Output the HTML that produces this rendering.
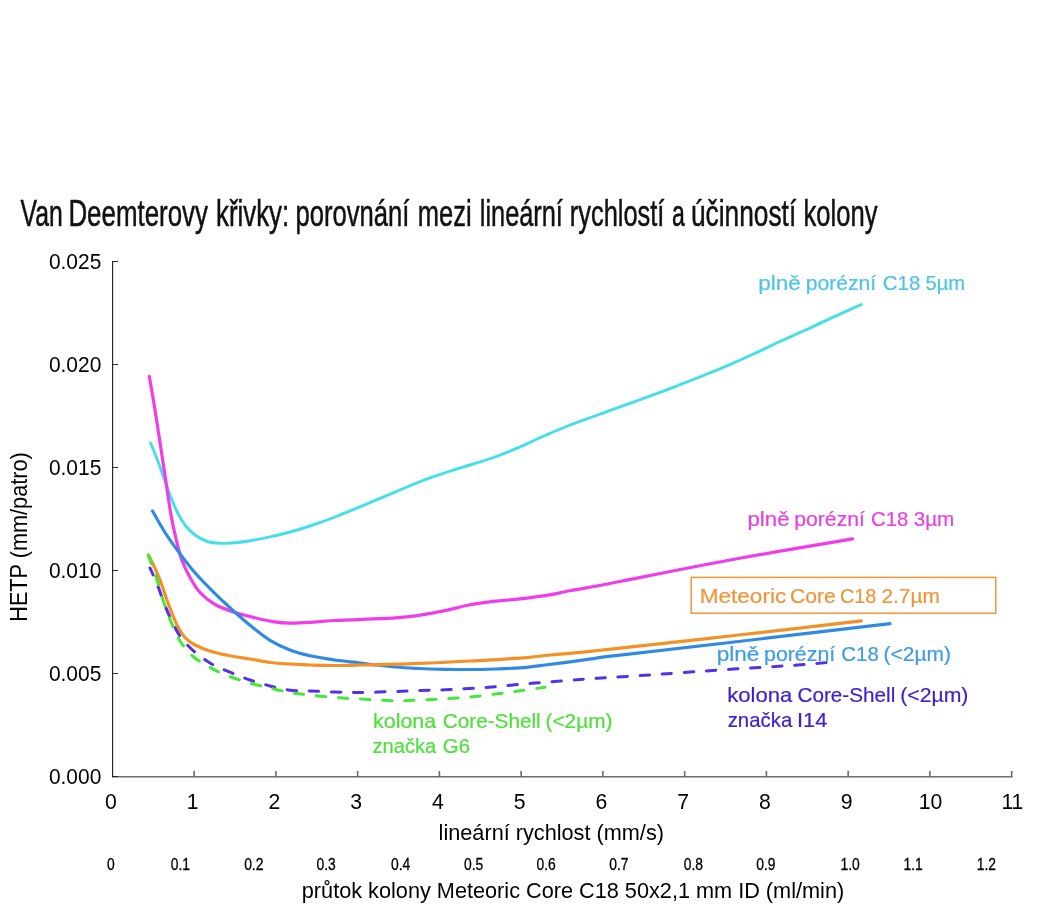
<!DOCTYPE html>
<html><head><meta charset="utf-8"><title>Van Deemterovy křivky</title>
<style>
html,body{margin:0;padding:0;background:#fff;}
body{width:1063px;height:910px;overflow:hidden;font-family:"Liberation Sans",sans-serif;}
svg{display:block;font-family:"Liberation Sans",sans-serif;will-change:transform;}
</style></head><body>
<svg width="1063" height="910" viewBox="0 0 1063 910">
<rect width="1063" height="910" fill="#fff"/>
<g id="axes">
<path d="M112,776.8H1012.5" fill="none" stroke="#6c6c6c" stroke-width="1.4"/>
<path d="M194.15,777.3v-6.2M275.90,777.3v-6.2M357.65,777.3v-6.2M439.40,777.3v-6.2M521.15,777.3v-6.2M602.90,777.3v-6.2M684.65,777.3v-6.2M766.40,777.3v-6.2M848.15,777.3v-6.2M929.90,777.3v-6.2M1011.65,777.3v-6.2" fill="none" stroke="#6c6c6c" stroke-width="1.6"/>
<path d="M112.6,261.1V777.3" fill="none" stroke="#222" stroke-width="1.15"/>
<path d="M112.6,776.5h5.4M112.6,673.5h5.4M112.6,570.5h5.4M112.6,467.5h5.4M112.6,364.5h5.4M112.6,261.5h5.4" fill="none" stroke="#222" stroke-width="0.95"/>
</g>
<g id="labels">
<rect x="691.2" y="577.4" width="304.6" height="35.8" fill="none" stroke="#F0953A" stroke-width="1.5"/>
<text transform="translate(758.15,290) scale(1.1399,1)" font-size="19.8" fill="#4DC3E8" stroke="#4DC3E8" stroke-width="0.2">plně</text>
<text transform="translate(805.73,290) scale(1.0678,1)" font-size="19.8" fill="#4DC3E8" stroke="#4DC3E8" stroke-width="0.2">porézní</text>
<text transform="translate(882.78,290) scale(1.0313,1)" font-size="19.8" fill="#4DC3E8" stroke="#4DC3E8" stroke-width="0.2">C18</text>
<text transform="translate(925.49,290) scale(1.0170,1)" font-size="19.8" fill="#4DC3E8" stroke="#4DC3E8" stroke-width="0.2">5µm</text>
<text transform="translate(747.46,526) scale(1.1258,1)" font-size="19.8" fill="#EB3FE0" stroke="#EB3FE0" stroke-width="0.2">plně</text>
<text transform="translate(794.23,526) scale(1.0709,1)" font-size="19.8" fill="#EB3FE0" stroke="#EB3FE0" stroke-width="0.2">porézní</text>
<text transform="translate(870.98,526) scale(1.0255,1)" font-size="19.8" fill="#EB3FE0" stroke="#EB3FE0" stroke-width="0.2">C18</text>
<text transform="translate(913.68,526) scale(1.0439,1)" font-size="19.8" fill="#EB3FE0" stroke="#EB3FE0" stroke-width="0.2">3µm</text>
<text transform="translate(699.69,603.4) scale(1.1401,1)" font-size="19.8" fill="#F0953A" stroke="#F0953A" stroke-width="0.2">Meteoric</text>
<text transform="translate(789.95,603.4) scale(1.0653,1)" font-size="19.8" fill="#F0953A" stroke="#F0953A" stroke-width="0.2">Core</text>
<text transform="translate(840.01,603.4) scale(1.0024,1)" font-size="19.8" fill="#F0953A" stroke="#F0953A" stroke-width="0.2">C18</text>
<text transform="translate(881.46,603.4) scale(1.0547,1)" font-size="19.8" fill="#F0953A" stroke="#F0953A" stroke-width="0.2">2.7µm</text>
<text transform="translate(716.65,661.3) scale(1.1399,1)" font-size="19.8" fill="#3E9CE3" stroke="#3E9CE3" stroke-width="0.2">plně</text>
<text transform="translate(764.02,661.3) scale(1.0786,1)" font-size="19.8" fill="#3E9CE3" stroke="#3E9CE3" stroke-width="0.2">porézní</text>
<text transform="translate(841.28,661.3) scale(1.0313,1)" font-size="19.8" fill="#3E9CE3" stroke="#3E9CE3" stroke-width="0.2">C18</text>
<text transform="translate(883.54,661.3) scale(1.0582,1)" font-size="19.8" fill="#3E9CE3" stroke="#3E9CE3" stroke-width="0.2">(&lt;2µm)</text>
<text transform="translate(727.18,701.5) scale(1.1147,1)" font-size="19.8" fill="#3E22CE" stroke="#3E22CE" stroke-width="0.2">kolona</text>
<text transform="translate(797.46,701.5) scale(1.0458,1)" font-size="19.8" fill="#3E22CE" stroke="#3E22CE" stroke-width="0.2">Core-Shell</text>
<text transform="translate(900.23,701.5) scale(1.0712,1)" font-size="19.8" fill="#3E22CE" stroke="#3E22CE" stroke-width="0.2">(&lt;2µm)</text>
<text transform="translate(727.69,726.5) scale(1.0287,1)" font-size="19.8" fill="#3E22CE" stroke="#3E22CE" stroke-width="0.2">značka</text>
<text transform="translate(797.04,726.5) scale(1.1021,1)" font-size="19.8" fill="#3E22CE" stroke="#3E22CE" stroke-width="0.2">I14</text>
<text transform="translate(373.01,728) scale(1.0833,1)" font-size="19.8" fill="#4FE03C" stroke="#4FE03C" stroke-width="0.2">kolona</text>
<text transform="translate(442.76,728) scale(1.0480,1)" font-size="19.8" fill="#4FE03C" stroke="#4FE03C" stroke-width="0.2">Core-Shell</text>
<text transform="translate(545.55,728) scale(1.0500,1)" font-size="19.8" fill="#4FE03C" stroke="#4FE03C" stroke-width="0.2">(&lt;2µm)</text>
<text transform="translate(372.50,753) scale(1.0158,1)" font-size="19.8" fill="#4FE03C" stroke="#4FE03C" stroke-width="0.2">značka</text>
<text transform="translate(442.78,753) scale(1.0321,1)" font-size="19.8" fill="#4FE03C" stroke="#4FE03C" stroke-width="0.2">G6</text>
</g>
<g id="curves">
<path d="M150.5,443.0C151.7,445.8 155.3,454.2 157.5,460.0C159.7,465.8 161.7,471.7 163.8,477.5C165.9,483.3 167.7,489.2 170.0,495.0C172.3,500.8 175.0,507.5 177.5,512.5C180.0,517.5 182.1,521.2 185.0,525.0C187.9,528.8 191.2,532.2 195.0,535.0C198.8,537.8 203.3,540.1 207.5,541.5C211.7,542.9 215.4,543.1 220.0,543.3C224.6,543.5 230.0,543.1 235.0,542.7C240.0,542.3 244.2,541.8 250.0,540.8C255.8,539.8 263.3,538.3 270.0,536.8C276.7,535.3 283.3,533.8 290.0,532.0C296.7,530.2 302.5,528.5 310.0,526.0C317.5,523.5 326.7,520.2 335.0,517.0C343.3,513.8 350.0,510.9 360.0,506.8C370.0,502.7 385.0,496.3 395.0,492.1C405.0,487.9 411.7,484.8 420.0,481.6C428.3,478.4 436.7,475.6 445.0,472.8C453.3,470.0 461.7,467.6 470.0,465.0C478.3,462.4 486.7,460.0 495.0,457.0C503.3,454.0 511.7,450.5 520.0,446.9C528.3,443.3 536.7,439.1 545.0,435.5C553.3,431.9 561.7,428.2 570.0,425.0C578.3,421.8 586.7,419.0 595.0,416.0C603.3,413.0 610.0,410.4 620.0,406.8C630.0,403.2 645.0,397.9 655.0,394.2C665.0,390.5 671.7,387.9 680.0,384.7C688.3,381.5 696.7,378.1 705.0,374.8C713.3,371.5 721.7,368.2 730.0,364.6C738.3,361.0 746.7,357.2 755.0,353.3C763.3,349.4 771.7,345.3 780.0,341.5C788.3,337.7 796.7,334.1 805.0,330.3C813.3,326.5 820.6,322.9 830.0,318.6C839.4,314.3 856.1,306.9 861.3,304.5" fill="none" stroke="#44E0E8" stroke-width="2.9" stroke-linecap="round" stroke-linejoin="round"/>
<path d="M149.3,376.3C150.2,381.9 153.2,399.0 155.0,410.0C156.8,421.0 158.2,430.8 160.0,442.5C161.8,454.2 163.9,467.9 165.7,480.0C167.5,492.1 169.2,505.0 171.0,515.0C172.8,525.0 174.5,532.5 176.3,540.0C178.1,547.5 179.5,553.8 181.8,560.0C184.1,566.2 187.0,572.1 190.0,577.5C193.0,582.9 195.8,588.0 200.0,592.5C204.2,597.0 209.2,601.2 215.0,604.5C220.8,607.8 228.3,610.3 235.0,612.5C241.7,614.7 248.8,616.3 255.0,617.8C261.2,619.3 266.7,620.7 272.5,621.6C278.3,622.5 283.8,623.1 290.0,623.2C296.2,623.3 302.5,622.9 310.0,622.4C317.5,621.9 320.8,621.3 335.0,620.5C349.2,619.7 380.8,618.7 395.0,617.8C409.2,616.9 411.7,616.4 420.0,615.2C428.3,614.0 436.7,612.3 445.0,610.6C453.3,608.9 462.5,606.3 470.0,604.8C477.5,603.3 481.7,602.8 490.0,601.8C498.3,600.8 510.8,599.8 520.0,598.8C529.2,597.8 536.7,596.9 545.0,595.6C553.3,594.3 561.7,592.3 570.0,590.8C578.3,589.2 586.7,587.8 595.0,586.3C603.3,584.8 597.5,585.9 620.0,581.5C642.5,577.1 691.2,567.1 730.0,560.0C768.8,552.9 832.1,542.3 852.5,538.8" fill="none" stroke="#F03CEB" stroke-width="3.2" stroke-linecap="round" stroke-linejoin="round"/>
<path d="M152.5,511.0C154.6,514.6 160.4,525.4 165.0,532.5C169.6,539.6 175.0,547.1 180.0,553.8C185.0,560.5 189.2,566.2 195.0,572.8C200.8,579.4 208.3,587.0 215.0,593.6C221.7,600.2 228.8,606.6 235.0,612.2C241.2,617.8 246.7,622.6 252.5,627.3C258.3,632.0 263.8,636.5 270.0,640.3C276.2,644.1 283.3,647.4 290.0,650.0C296.7,652.6 302.5,654.1 310.0,655.8C317.5,657.5 326.7,658.8 335.0,660.0C343.3,661.2 350.0,661.8 360.0,663.0C370.0,664.2 385.0,666.1 395.0,667.0C405.0,667.9 411.7,668.1 420.0,668.5C428.3,668.9 436.7,669.1 445.0,669.3C453.3,669.5 461.7,669.5 470.0,669.5C478.3,669.5 486.7,669.3 495.0,669.0C503.3,668.7 511.7,668.5 520.0,667.8C528.3,667.1 536.7,666.0 545.0,665.0C553.3,664.0 561.7,662.9 570.0,661.8C578.3,660.7 586.7,659.4 595.0,658.3C603.3,657.2 597.5,657.8 620.0,655.2C642.5,652.6 685.0,647.8 730.0,642.5C775.0,637.2 863.3,626.8 890.0,623.6" fill="none" stroke="#308BE0" stroke-width="3.2" stroke-linecap="round" stroke-linejoin="round"/>
<path d="M148.3,555.0C149.0,556.3 150.6,558.8 152.5,563.0C154.4,567.2 157.3,573.0 160.0,580.0C162.7,587.0 165.9,597.3 168.8,605.0C171.7,612.7 174.8,620.6 177.5,626.0C180.2,631.4 182.1,634.3 185.0,637.5C187.9,640.7 190.8,642.8 195.0,645.0C199.2,647.2 204.2,649.2 210.0,651.0C215.8,652.8 223.3,654.5 230.0,655.8C236.7,657.1 243.3,657.9 250.0,659.0C256.7,660.1 263.3,661.7 270.0,662.5C276.7,663.3 283.3,663.6 290.0,664.0C296.7,664.4 302.5,664.8 310.0,665.0C317.5,665.2 326.7,665.5 335.0,665.5C343.3,665.5 345.8,665.4 360.0,665.0C374.2,664.6 401.7,664.1 420.0,663.4C438.3,662.7 453.3,661.9 470.0,661.0C486.7,660.1 507.5,659.1 520.0,658.2C532.5,657.3 536.7,656.3 545.0,655.5C553.3,654.7 561.7,654.1 570.0,653.3C578.3,652.5 586.7,651.6 595.0,650.8C603.3,649.9 597.5,650.7 620.0,648.2C642.5,645.7 689.8,640.5 730.0,636.0C770.2,631.5 839.4,623.4 861.3,620.9" fill="none" stroke="#F29226" stroke-width="3.2" stroke-linecap="round" stroke-linejoin="round"/>
<path d="M150.0,568.0C151.2,570.8 155.2,579.2 157.5,585.0C159.8,590.8 161.5,596.7 163.8,602.5C166.1,608.3 168.6,614.4 171.3,620.0C174.0,625.6 176.5,631.0 180.0,636.0C183.5,641.0 187.5,645.5 192.5,650.0C197.5,654.5 203.8,659.3 210.0,663.0C216.2,666.7 223.3,669.4 230.0,672.2C236.7,675.0 243.3,677.7 250.0,680.0C256.7,682.3 263.3,684.3 270.0,686.0C276.7,687.7 283.3,689.4 290.0,690.2C296.7,691.0 302.5,690.7 310.0,691.0C317.5,691.3 326.7,691.8 335.0,692.0C343.3,692.2 350.0,692.6 360.0,692.5C370.0,692.4 385.0,691.8 395.0,691.5C405.0,691.2 411.7,690.8 420.0,690.5C428.3,690.2 436.7,690.1 445.0,689.8C453.3,689.5 461.7,689.0 470.0,688.5C478.3,688.0 486.7,687.5 495.0,686.8C503.3,686.1 511.7,685.0 520.0,684.3C528.3,683.5 536.7,683.0 545.0,682.3C553.3,681.6 561.7,680.9 570.0,680.2C578.3,679.6 583.3,679.2 595.0,678.4C606.7,677.6 617.5,677.1 640.0,675.6C662.5,674.1 705.0,671.0 730.0,669.3C755.0,667.6 774.0,666.7 790.0,665.6C806.0,664.5 820.2,663.1 826.3,662.6" fill="none" stroke="#5232E2" stroke-width="3.0" stroke-linecap="round" stroke-linejoin="round" stroke-dasharray="9.4 12.7" stroke-dashoffset="1.8"/>
<path d="M148.3,555.0C149.6,558.8 153.7,569.6 156.3,577.5C158.9,585.4 161.3,595.0 163.8,602.5C166.3,610.0 168.6,616.1 171.3,622.5C174.0,628.9 176.5,635.4 180.0,641.0C183.5,646.6 187.5,651.6 192.5,656.0C197.5,660.4 203.8,664.1 210.0,667.5C216.2,670.9 223.3,674.0 230.0,676.6C236.7,679.2 243.3,681.2 250.0,683.1C256.7,685.0 263.3,686.4 270.0,688.0C276.7,689.6 283.3,691.3 290.0,692.5C296.7,693.7 302.5,694.2 310.0,695.0C317.5,695.8 326.7,696.8 335.0,697.5C343.3,698.2 350.0,698.5 360.0,699.0C370.0,699.5 385.0,700.6 395.0,700.8C405.0,701.0 411.7,700.3 420.0,700.0C428.3,699.7 436.7,699.3 445.0,698.8C453.3,698.3 461.7,697.8 470.0,697.0C478.3,696.2 486.7,695.1 495.0,694.1C503.3,693.1 511.7,691.9 520.0,690.8C528.3,689.6 540.8,687.8 545.0,687.2" fill="none" stroke="#46E63A" stroke-width="3.0" stroke-linecap="round" stroke-linejoin="round" stroke-dasharray="9.4 12.7" stroke-dashoffset="0"/>
</g>
<g id="text">
<text transform="translate(20.60,225.8) scale(0.6687,1)" font-size="37" fill="#111" stroke="#111" stroke-width="0.45" vector-effect="non-scaling-stroke">Van</text>
<text transform="translate(68.43,225.8) scale(0.6998,1)" font-size="37" fill="#111" stroke="#111" stroke-width="0.45" vector-effect="non-scaling-stroke">Deemterovy</text>
<text transform="translate(215.95,225.8) scale(0.6995,1)" font-size="37" fill="#111" stroke="#111" stroke-width="0.45" vector-effect="non-scaling-stroke">křivky:</text>
<text transform="translate(295.46,225.8) scale(0.6926,1)" font-size="37" fill="#111" stroke="#111" stroke-width="0.45" vector-effect="non-scaling-stroke">porovnání</text>
<text transform="translate(417.77,225.8) scale(0.6889,1)" font-size="37" fill="#111" stroke="#111" stroke-width="0.45" vector-effect="non-scaling-stroke">mezi</text>
<text transform="translate(479.78,225.8) scale(0.6853,1)" font-size="37" fill="#111" stroke="#111" stroke-width="0.45" vector-effect="non-scaling-stroke">lineární</text>
<text transform="translate(569.77,225.8) scale(0.6872,1)" font-size="37" fill="#111" stroke="#111" stroke-width="0.45" vector-effect="non-scaling-stroke">rychlostí</text>
<text transform="translate(672.08,225.8) scale(0.6237,1)" font-size="37" fill="#111" stroke="#111" stroke-width="0.45" vector-effect="non-scaling-stroke">a</text>
<text transform="translate(690.92,225.8) scale(0.7112,1)" font-size="37" fill="#111" stroke="#111" stroke-width="0.45" vector-effect="non-scaling-stroke">účinností</text>
<text transform="translate(803.46,225.8) scale(0.6922,1)" font-size="37" fill="#111" stroke="#111" stroke-width="0.45" vector-effect="non-scaling-stroke">kolony</text>
<text transform="translate(101.3,783.7) scale(0.965,1)" font-size="21.7" fill="#000" text-anchor="end">0.000</text>
<text transform="translate(101.3,680.7) scale(0.965,1)" font-size="21.7" fill="#000" text-anchor="end">0.005</text>
<text transform="translate(101.3,577.7) scale(0.965,1)" font-size="21.7" fill="#000" text-anchor="end">0.010</text>
<text transform="translate(101.3,474.7) scale(0.965,1)" font-size="21.7" fill="#000" text-anchor="end">0.015</text>
<text transform="translate(101.3,371.7) scale(0.965,1)" font-size="21.7" fill="#000" text-anchor="end">0.020</text>
<text transform="translate(101.3,268.7) scale(0.965,1)" font-size="21.7" fill="#000" text-anchor="end">0.025</text>
<text x="110.9" y="808.6" font-size="21.2" fill="#000" text-anchor="middle">0</text>
<text x="192.7" y="808.6" font-size="21.2" fill="#000" text-anchor="middle">1</text>
<text x="274.4" y="808.6" font-size="21.2" fill="#000" text-anchor="middle">2</text>
<text x="356.1" y="808.6" font-size="21.2" fill="#000" text-anchor="middle">3</text>
<text x="437.9" y="808.6" font-size="21.2" fill="#000" text-anchor="middle">4</text>
<text x="519.6" y="808.6" font-size="21.2" fill="#000" text-anchor="middle">5</text>
<text x="601.4" y="808.6" font-size="21.2" fill="#000" text-anchor="middle">6</text>
<text x="683.1" y="808.6" font-size="21.2" fill="#000" text-anchor="middle">7</text>
<text x="764.9" y="808.6" font-size="21.2" fill="#000" text-anchor="middle">8</text>
<text x="846.6" y="808.6" font-size="21.2" fill="#000" text-anchor="middle">9</text>
<text x="930.6" y="808.6" font-size="21.2" fill="#000" text-anchor="middle">10</text>
<text x="1012.4" y="808.6" font-size="21.2" fill="#000" text-anchor="middle">11</text>
<text x="551.3" y="840" font-size="21.7" fill="#000" text-anchor="middle">lineární rychlost (mm/s)</text>
<text x="573" y="898.3" font-size="21.7" fill="#000" text-anchor="middle">průtok kolony Meteoric Core C18 50x2,1 mm ID (ml/min)</text>
<text transform="translate(26.6,537) rotate(-90) scale(1,1.06)" font-size="21.7" fill="#000" text-anchor="middle">HETP (mm/patro)</text>
<text transform="translate(110.9,870) scale(0.855,1)" font-size="16.2" fill="#000" stroke="#000" stroke-width="0.3" text-anchor="middle">0</text>
<text transform="translate(180.4,870) scale(0.855,1)" font-size="16.2" fill="#000" stroke="#000" stroke-width="0.3" text-anchor="middle">0.1</text>
<text transform="translate(253.75,870) scale(0.855,1)" font-size="16.2" fill="#000" stroke="#000" stroke-width="0.3" text-anchor="middle">0.2</text>
<text transform="translate(326.1,870) scale(0.855,1)" font-size="16.2" fill="#000" stroke="#000" stroke-width="0.3" text-anchor="middle">0.3</text>
<text transform="translate(400.6,870) scale(0.855,1)" font-size="16.2" fill="#000" stroke="#000" stroke-width="0.3" text-anchor="middle">0.4</text>
<text transform="translate(473.6,870) scale(0.855,1)" font-size="16.2" fill="#000" stroke="#000" stroke-width="0.3" text-anchor="middle">0.5</text>
<text transform="translate(546.1,870) scale(0.855,1)" font-size="16.2" fill="#000" stroke="#000" stroke-width="0.3" text-anchor="middle">0.6</text>
<text transform="translate(618.9,870) scale(0.855,1)" font-size="16.2" fill="#000" stroke="#000" stroke-width="0.3" text-anchor="middle">0.7</text>
<text transform="translate(693.4,870) scale(0.855,1)" font-size="16.2" fill="#000" stroke="#000" stroke-width="0.3" text-anchor="middle">0.8</text>
<text transform="translate(765.9,870) scale(0.855,1)" font-size="16.2" fill="#000" stroke="#000" stroke-width="0.3" text-anchor="middle">0.9</text>
<text transform="translate(850.2,870) scale(0.855,1)" font-size="16.2" fill="#000" stroke="#000" stroke-width="0.3" text-anchor="middle">1.0</text>
<text transform="translate(913.1,870) scale(0.855,1)" font-size="16.2" fill="#000" stroke="#000" stroke-width="0.3" text-anchor="middle">1.1</text>
<text transform="translate(986.4,870) scale(0.855,1)" font-size="16.2" fill="#000" stroke="#000" stroke-width="0.3" text-anchor="middle">1.2</text>
</g>
</svg>
</body></html>
